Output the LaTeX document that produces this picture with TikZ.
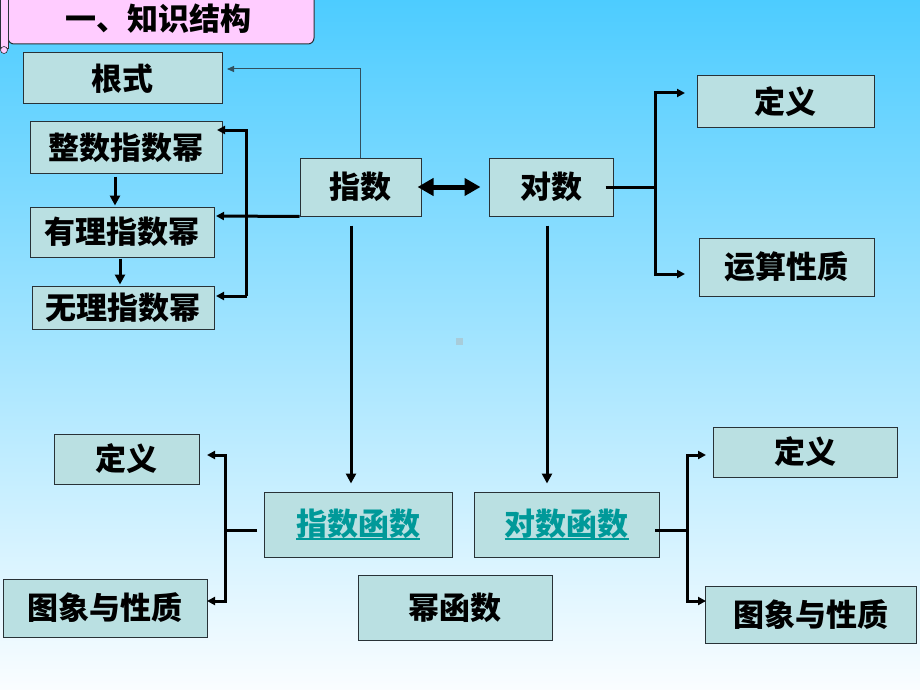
\documentclass[tikz,border=0pt]{standalone}
\usepackage{fontspec}
\setmainfont{Noto Sans CJK SC}
\usetikzlibrary{arrows.meta,calc}
\definecolor{bgtop}{RGB}{77,204,255}
\definecolor{bgbot}{RGB}{250,253,255}
\definecolor{boxfill}{RGB}{186,224,226}
\definecolor{boxline}{RGB}{40,50,55}
\definecolor{titlepink}{RGB}{255,204,255}
\definecolor{linkteal}{RGB}{0,153,153}
\definecolor{thinline}{RGB}{50,80,95}
\newcommand\linktext[1]{\setbox0\hbox{#1}\rlap{\raisebox{-5pt}{\rule{\wd0}{2pt}}}\box0}
\begin{document}
\begin{tikzpicture}[x=1pt,y=-1pt,
  box/.style={draw=boxline, line width=1pt, fill=boxfill, inner sep=0pt, text=black,
    font=\fontsize{31}{31}\selectfont\bfseries},
  linkbox/.style={box, text=linkteal},
  thk/.style={line width=3pt, draw=black},
  tip/.style={-{Triangle[width=8pt,length=8pt]}},
  bigtip/.style={-{Triangle[width=10pt,length=10pt]}},
  thinarr/.style={line width=1pt, draw=thinline, -{Triangle[width=6pt,length=7pt]}},
  dbl/.style={line width=5pt, draw=black, {Triangle[width=17pt,length=16pt]}-{Triangle[width=17pt,length=16pt]}}]
\useasboundingbox (0,0) rectangle (920,690);
\shade[top color=bgtop,bottom color=bgbot] (0,0) rectangle (920,690);
% title
\draw[fill=titlepink, draw=boxline, line width=1pt, rounded corners=6pt] (8,-10) rectangle (314,44);
\draw[fill=titlepink, draw=boxline, line width=0.8pt] (0,-5) rectangle (8,48);
\draw[fill=titlepink, draw=boxline, line width=0.6pt] (4,50) circle (3.5);
\node[font=\fontsize{31}{31}\selectfont\bfseries] (title) at (158.5,19) {一、知识结构};
% small mark
\fill[fill={rgb,255:red,168;green,204;blue,218}] (456,338) rectangle (463,345);
% boxes
\node[box, minimum width=199pt, minimum height=51pt] (genshi) at (122.5,78.5) {根式};
\node[box, minimum width=192pt, minimum height=51pt] (zhengshu) at (126,147.5) {整数指数幂};
\node[box, minimum width=184pt, minimum height=50pt] (youli) at (122,232) {有理指数幂};
\node[box, minimum width=182pt, minimum height=43pt] (wuli) at (123,307.5) {无理指数幂};
\node[box, minimum width=121pt, minimum height=58pt] (zhishu) at (360.5,187) {指数};
\node[box, minimum width=124pt, minimum height=58pt] (duishu) at (551,187) {对数};
\node[box, minimum width=177pt, minimum height=51pt] (dy1) at (785.5,101.5) {定义};
\node[box, minimum width=175pt, minimum height=58pt] (ys) at (786.5,267) {运算性质};
\node[linkbox, minimum width=188pt, minimum height=65pt] (zsf) at (358,524.5) {\linktext{指数函数}};
\node[linkbox, minimum width=185pt, minimum height=65pt] (dsf) at (566.5,524.5) {\linktext{对数函数}};
\node[box, minimum width=194pt, minimum height=65pt] (mhs) at (455,607.5) {幂函数};
\node[box, minimum width=145pt, minimum height=50pt] (dy2) at (126.5,459) {定义};
\node[box, minimum width=204pt, minimum height=58pt] (tx1) at (105,608) {图象与性质};
\node[box, minimum width=184pt, minimum height=50pt] (dy3) at (805,452) {定义};
\node[box, minimum width=211pt, minimum height=57pt] (tx2) at (810.5,614.5) {图象与性质};
% coordinates
\coordinate (gsin) at (227,69);
\coordinate (ylin) at (216,216);
\coordinate (zxin) at (217,130);
\coordinate (brkb) at (246.5,296);
\coordinate (wlin) at (216,296);
\coordinate (dj) at (655,187);
\coordinate (dy1in) at (685,93);
\coordinate (ysin) at (685,274);
\coordinate (zsfl) at (257,530);
\coordinate (lj) at (225.5,530);
\coordinate (dy2in) at (207,455);
\coordinate (tx1in) at (207,601);
\coordinate (dsfr) at (655,530);
\coordinate (rj) at (687,530);
\coordinate (dy3in) at (706,455);
\coordinate (tx2in) at (706,601);
% connectors
\draw[thinarr] (zhishu.north) |- (gsin);
\draw[thk,tip] (zhishu.south west) -- (ylin);
\draw[thk,tip] (brkb) |- (zxin);
\draw[thk,tip] (brkb) -- (wlin);
\draw[thk,bigtip] ($(zhengshu.south)+(-11,3)$) -- ($(youli.north)+(-7,-1)$);
\draw[thk,bigtip] ($(youli.south)+(-2,1)$) -- ($(wuli.north)+(-3,-1)$);
\draw[dbl] ($(zhishu.east)+(-4,0)$) -- ($(duishu.west)+(-8,0)$);
\draw[thk] ($(duishu.east)+(-8,0)$) -- (dj);
\draw[thk,tip] (dj) |- (dy1in);
\draw[thk,tip] (dj) |- (ysin);
\draw[thk,bigtip] ($(zhishu.south)+(-9.5,9)$) -- ($(zsf.north)+(-7,-8)$);
\draw[thk,bigtip] ($(duishu.south)+(-4,9)$) -- ($(dsf.north)+(-19.5,-8)$);
\draw[thk] (zsfl) -- (lj);
\draw[thk,tip] (lj) |- (dy2in);
\draw[thk,tip] (lj) |- (tx1in);
\draw[thk] (dsfr) -- (rj);
\draw[thk,tip] (rj) |- (dy3in);
\draw[thk,tip] (rj) |- (tx2in);
\end{tikzpicture}
\end{document}
